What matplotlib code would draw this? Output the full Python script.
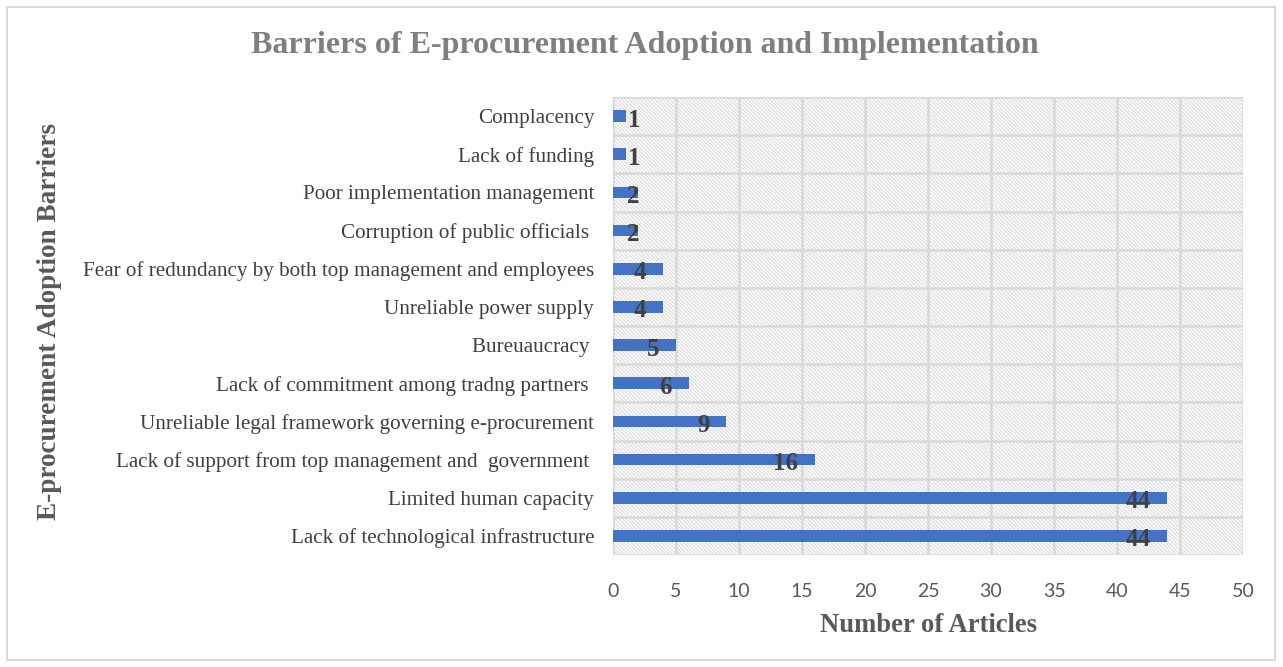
import numpy as np
import matplotlib.pyplot as plt
from matplotlib.patches import Rectangle

# data (top to bottom as displayed)
barriers = [
    "Complacency",
    "Lack of funding",
    "Poor implementation management",
    "Corruption of public officials ",
    "Fear of redundancy by both top management and employees",
    "Unreliable power supply",
    "Bureuaucracy ",
    "Lack of commitment among tradng partners ",
    "Unreliable legal framework governing e-procurement",
    "Lack of support from top management and  government ",
    "Limited human capacity",
    "Lack of technological infrastructure",
]
articles = [1, 1, 2, 2, 4, 4, 5, 6, 9, 16, 44, 44]

serif = "Liberation Serif"
sans = "Lato"
grid_c = "#d9d9d9"

fig = plt.figure(figsize=(12.83, 6.67), dpi=100)
fig.patches.append(Rectangle((7/1283, 7/667), 1268/1283, 653/667, transform=fig.transFigure,
                             fill=False, edgecolor=grid_c, linewidth=1.5))

ax = fig.add_axes([613/1283, 1-555/667, 630/1283, 458/667])

n = len(barriers)
ypos = np.arange(n)

# hatched background
plt.rcParams['hatch.linewidth'] = 0.9
bg = Rectangle((0, 0), 1, 1, transform=ax.transAxes, facecolor="white",
               edgecolor="#dedede", linewidth=0, hatch="\\" * 9, zorder=0)
ax.add_patch(bg)

ax.barh(ypos, articles, height=0.31, color="#4472c4", zorder=3)

ax.set_xlim(0, 50)
ax.set_ylim(n - 0.5, -0.5)
ax.set_xticks(np.arange(0, 51, 5))
ax.set_yticks(ypos)
ax.set_yticklabels(barriers, fontfamily=serif, fontsize=15.2, color="#404040")
for t in ax.get_xticklabels():
    t.set_fontfamily(sans)
    t.set_fontsize(14)
    t.set_color("#595959")
ax.tick_params(axis="both", length=0)
ax.tick_params(axis="y", pad=13.5)
ax.tick_params(axis="x", pad=20)

# grid: vertical at ticks, horizontal at category boundaries
for xv in np.arange(5, 51, 5):
    ax.axvline(xv, color=grid_c, linewidth=1.8, zorder=1)
for yb in np.arange(-0.5, n, 1.0):
    ax.axhline(yb, color=grid_c, linewidth=1.8, zorder=1)
for s in ax.spines.values():
    s.set_visible(False)
ax.axvline(0, color=grid_c, linewidth=1.8, zorder=2)

# data labels, inside end
px = 630 / 50
for y, v in zip(ypos, articles):
    right = max(v - 17 / px, 27 / px)
    ax.annotate(str(v), xy=(right, y), xytext=(0, -4), textcoords="offset pixels",
                ha="right", va="center", fontfamily=serif, fontweight="bold",
                fontsize=18, color="#404040", zorder=4)

fig.text(645/1283, 1-46/667, "Barriers of E-procurement Adoption and Implementation",
         ha="center", va="center", fontfamily=serif, fontweight="bold",
         fontsize=23, color="#7f7f7f")
fig.text(928/1283, 1-625/667, "Number of Articles", ha="center", va="center",
         fontfamily=serif, fontweight="bold", fontsize=19.2, color="#595959")
fig.text(50/1283, 1-322/667, "E-procurement Adoption Barriers", ha="center", va="center",
         rotation=90, fontfamily=serif, fontweight="bold", fontsize=19.6, color="#595959")

fig.savefig("out.png", dpi=100)
